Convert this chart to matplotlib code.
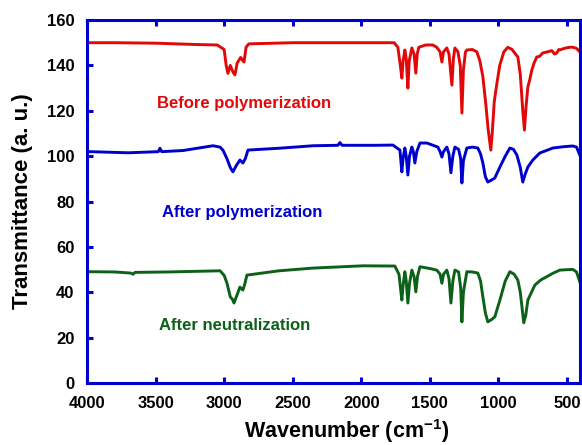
import matplotlib.pyplot as plt

plt.rcParams['font.family'] = ['Liberation Sans', 'DejaVu Sans']
plt.rcParams['font.weight'] = 'bold'
plt.rcParams['mathtext.fontset'] = 'custom'
plt.rcParams['mathtext.bf'] = 'Liberation Sans:bold'
plt.rcParams['mathtext.rm'] = 'Liberation Sans:bold'

# spectra (wavenumber in cm-1, transmittance)
wn_before = [4000, 3800, 3500, 3200, 3050, 3000, 2985, 2972, 2955, 2935, 2921, 2905, 2880, 2868,
             2855, 2840, 2820, 2500, 2200, 1900, 1760, 1733, 1715, 1704, 1695, 1682, 1672, 1660,
             1650, 1631, 1615, 1602, 1592, 1580, 1530, 1478, 1450, 1425, 1412, 1400, 1376, 1360,
             1339, 1328, 1317, 1295, 1278, 1266, 1255, 1240, 1230, 1190, 1157, 1135, 1113, 1090,
             1075, 1055, 1045, 1030, 1011, 990, 960, 931, 900, 875, 858, 840, 822, 810, 798, 785,
             770, 756, 740, 720, 700, 676, 640, 610, 590, 574, 560, 552, 520, 480, 457, 430, 406]
tr_before = [150, 150, 149.8, 149.2, 149, 147, 140, 136.5, 140, 137, 135.8, 141, 143.5, 142.5,
             141.5, 148, 149.5, 150, 150, 150, 150, 148, 140, 134.4, 142, 146.8, 143, 130,
             142, 147.7, 145, 136.6, 145, 148, 149, 149, 148, 146, 141.5, 146, 147.7, 145,
             131.3, 143, 147.7, 146, 140, 119, 138, 146, 146.8, 147, 146, 142, 135, 122,
             112, 102.7, 110, 124, 132, 140, 146, 148, 147, 145, 143.7, 136, 120, 111.5, 122, 130.5,
             134, 138, 141, 143.7, 144, 145.5, 146, 146.5, 145, 145.5, 147, 146.8, 147.5, 148, 148, 147.5, 146]

wn_after = [4000, 3978, 3700, 3480, 3468, 3455, 3300, 3081, 3030, 3009, 2980, 2955, 2936, 2910,
            2885, 2863, 2845, 2826, 2600, 2352, 2170, 2156, 2140, 1900, 1769, 1718, 1704, 1695,
            1682, 1672, 1660, 1648, 1631, 1620, 1609, 1595, 1572, 1521, 1441, 1425, 1412, 1400,
            1376, 1360, 1346, 1332, 1317, 1290, 1275, 1266, 1255, 1230, 1190, 1150, 1130, 1113,
            1095, 1077, 1050, 1026, 989, 950, 916, 890, 865, 840, 822, 805, 785, 749, 698, 650,
            603, 520, 457, 430, 406]
tr_after = [102, 102, 101.5, 102, 103.5, 102, 102.5, 104.6, 104, 102.7, 99, 95, 93.1, 96,
            98.3, 97, 99, 102.7, 103.5, 104.6, 104.8, 106, 104.8, 104.8, 104.9, 102.7, 93.1, 99,
            103.6, 100, 91.7, 100, 104, 102, 97, 102, 105.8, 105.8, 104, 102, 99.6, 102,
            104, 101, 92.7, 100, 104, 103, 99, 88.2, 98, 103.6, 104, 103.6, 101, 97,
            91, 88.6, 89.5, 90.4, 95.2, 100, 103.6, 103, 100.5, 95, 88.6, 92, 95.2, 98.3, 101.4, 102.5,
            103.6, 104.2, 104.5, 104, 100.5]

wn_neutral = [4000, 3978, 3800, 3680, 3665, 3650, 3400, 3030, 3000, 2979, 2955, 2940, 2928, 2905,
              2885, 2863, 2848, 2834, 2600, 2352, 1988, 1755, 1725, 1704, 1695, 1682, 1672, 1660,
              1648, 1631, 1615, 1602, 1590, 1572, 1500, 1449, 1425, 1412, 1400, 1376, 1360, 1346,
              1332, 1317, 1290, 1275, 1266, 1255, 1230, 1190, 1150, 1130, 1113, 1095, 1077, 1050,
              1026, 989, 950, 916, 885, 858, 840, 825, 815, 800, 785, 734, 690, 647, 600, 552,
              500, 457, 430, 406]
tr_neutral = [49.1, 49.1, 49, 48.5, 48, 48.8, 49, 49.5, 47.5, 44, 38, 37, 35.3, 39,
              42.3, 41, 44, 47.6, 49.5, 50.7, 51.7, 51.6, 48, 36.6, 43, 49.1, 45, 35.3,
              44, 49.8, 47, 40.2, 47, 51.3, 50.5, 49.8, 48, 44, 48, 49.8, 46, 35.3,
              45, 49.8, 49, 42, 27, 40, 49.1, 49, 48.5, 45, 38, 31,
              27, 28, 29.2, 36.6, 45, 49.1, 48, 45.4, 40, 32, 26.6, 30, 36.6, 43.2, 45.5, 46.9, 48.5, 49.8,
              50, 50.1, 49, 44.6]

labels = ["Before polymerization", "After polymerization", "After neutralization"]
colors = ["#E00808", "#0000CC", "#0B6118"]
label_pos = [(3490, 123.4), (3453, 75.4), (3475, 25.6)]

fig = plt.figure(figsize=(5.82, 4.45), dpi=100)
ax = fig.add_axes([0.1495, 0.139, 0.847, 0.816])

for wn, tr, c in zip([wn_before, wn_after, wn_neutral], [tr_before, tr_after, tr_neutral], colors):
    ax.plot(wn, tr, color=c, lw=2.1, solid_joinstyle='round')

for lab, (x, y), c in zip(labels, label_pos, colors):
    ax.text(x, y, lab, color=c, fontsize=12, fontweight='bold', va='center', ha='left')

ax.set_xlim(4000, 405)
ax.set_ylim(0, 160)
ax.set_xticks(range(4000, 499, -500))
ax.set_yticks(range(0, 161, 20))

spine_blue = "#0000CC"
for s in ax.spines.values():
    s.set_color(spine_blue)
    s.set_linewidth(2.2)
ax.tick_params(direction='in', length=4, width=2.2, color=spine_blue,
               labelsize=12, top=True, right=False, pad=9)
for lbl in ax.get_xticklabels() + ax.get_yticklabels():
    lbl.set_fontweight('bold')

ax.set_xlabel("Wavenumber (cm$^{\\mathbf{-1}}$)", fontsize=15.5, fontweight='bold')
ax.set_ylabel("Transmittance (a. u.)", fontsize=16, fontweight='bold')
ax.xaxis.set_label_coords(0.527, -0.094)
ax.yaxis.set_label_coords(-0.11, 0.5)

fig.savefig("out.png", dpi=100)
